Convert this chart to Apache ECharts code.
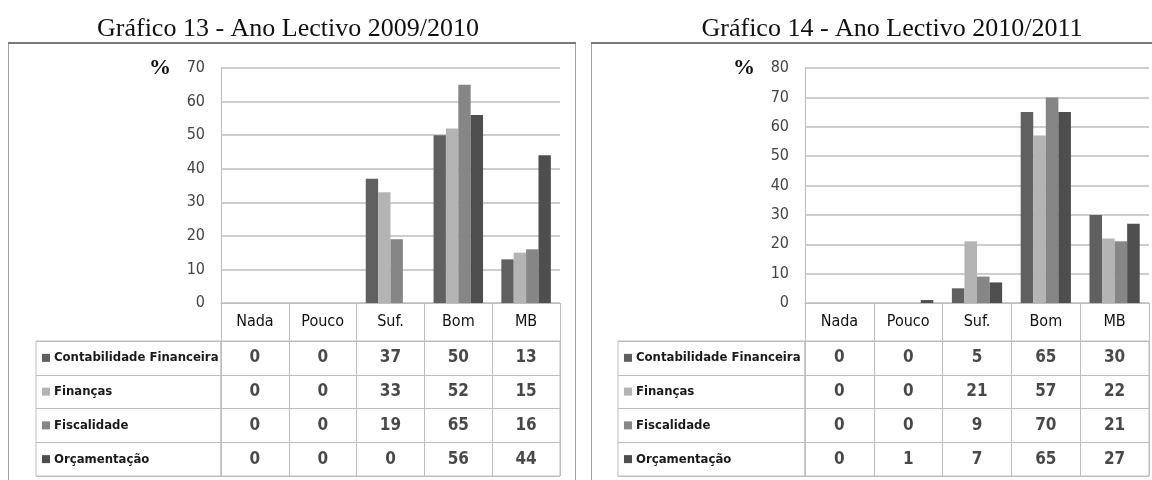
<!DOCTYPE html>
<html>
<head>
<meta charset="utf-8">
<script src="https://cdn.jsdelivr.net/npm/echarts@6/dist/echarts.min.js"></script>
<style>
html,body{margin:0;padding:0;background:#fff;}
#c{width:1152px;height:480px;}
</style>
</head>
<body>
<div id="c"></div>
<script>
// ---- data ----
const categories = ['Nada', 'Pouco', 'Suf.', 'Bom', 'MB'];
const seriesNames = ['Contabilidade Financeira', 'Finanças', 'Fiscalidade', 'Orçamentação'];
const title13 = 'Gráfico 13 - Ano Lectivo 2009/2010';
const title14 = 'Gráfico 14 - Ano Lectivo 2010/2011';
// 2009/2010
const contab13 = [0, 0, 37, 50, 13];
const financas13 = [0, 0, 33, 52, 15];
const fiscal13 = [0, 0, 19, 65, 16];
const orcam13 = [0, 0, 0, 56, 44];
// 2010/2011
const contab14 = [0, 0, 5, 65, 30];
const financas14 = [0, 0, 21, 57, 22];
const fiscal14 = [0, 0, 9, 70, 21];
const orcam14 = [0, 1, 7, 65, 27];
const yMax13 = 70, yMax14 = 80, yStep = 10;
const axisUnit = '%';

// ---- styles ----
const colors = ['#606060', '#b4b4b4', '#868686', '#4e4e4e'];
const FONT = '"Liberation Sans Narrow", "DejaVu Sans Condensed", sans-serif';
const lineCol = '#bdbdbd';

const values13 = [contab13, financas13, fiscal13, orcam13];
const values14 = [contab14, financas14, fiscal14, orcam14];

const P = [
  { plot: { left: 221, top: 68, width: 339, height: 235 }, lab: { left: 36, width: 185 }, titleX: 283, max: yMax13, vals: values13, title: title13 },
  { plot: { left: 805, top: 68, width: 344, height: 235 }, lab: { left: 618, width: 187 }, titleX: 887, max: yMax14, vals: values14, title: title14 }
];
const tableTop = 341, tableH = 135;

const grids = [], xAxes = [], yAxes = [], series = [], titles = [];
const rich = { t: { fontFamily: FONT, fontSize: 13, fontWeight: 'bold', color: '#1a1a1a', padding: [0, 0, 0, 4] } };
colors.forEach((c, i) => { rich['s' + i] = { backgroundColor: c, width: 8, height: 8 }; });

P.forEach((p, k) => {
  const g0 = grids.length;
  grids.push({ left: p.plot.left, top: p.plot.top, width: p.plot.width, height: p.plot.height, show: false });
  grids.push({ left: p.lab.left, top: tableTop, width: p.lab.width, height: tableH, show: true, borderColor: lineCol, borderWidth: 1, backgroundColor: 'transparent' });
  grids.push({ left: p.plot.left, top: tableTop, width: p.plot.width, height: tableH, show: true, borderColor: lineCol, borderWidth: 1, backgroundColor: 'transparent' });

  titles.push({ text: p.title, left: p.titleX, top: 11, textAlign: 'center',
    textStyle: { fontFamily: '"Liberation Serif", "Times New Roman", serif', fontSize: 26, fontWeight: 'normal', color: '#111' } });

  // main plot axes
  xAxes.push({ gridIndex: g0, type: 'category', data: categories,
    axisLine: { show: true, lineStyle: { color: lineCol, width: 1 } },
    axisTick: { show: true, length: 38, lineStyle: { color: lineCol } },
    axisLabel: { margin: 11, fontFamily: FONT, fontSize: 16, color: '#111' },
    splitLine: { show: false } });
  yAxes.push({ gridIndex: g0, type: 'value', min: 0, max: p.max, interval: yStep,
    name: axisUnit, nameLocation: 'end', nameGap: 0,
    nameTextStyle: { fontFamily: '"Liberation Serif", serif', fontWeight: 'bold', fontSize: 22, color: '#111', align: 'right', verticalAlign: 'middle', padding: [0, 50, 0, 0] },
    axisLine: { show: true, lineStyle: { color: lineCol } },
    axisTick: { show: false },
    axisLabel: { margin: 16, fontFamily: FONT, fontSize: 16, color: '#444' },
    splitLine: { show: true, lineStyle: { color: lineCol, width: 1.5 } } });

  // table label column
  xAxes.push({ gridIndex: g0 + 1, type: 'category', data: [''], show: false });
  yAxes.push({ gridIndex: g0 + 1, type: 'category', data: seriesNames, inverse: true,
    axisLine: { show: false }, axisTick: { show: false },
    splitLine: { show: true, lineStyle: { color: lineCol } },
    axisLabel: { inside: true, margin: 6, align: 'left', rich: rich,
      formatter: (v, i) => '{s' + i + '|}{t|' + v + '}' } });

  // table data cells
  xAxes.push({ gridIndex: g0 + 2, type: 'category', data: categories,
    axisLine: { show: false }, axisTick: { show: false }, axisLabel: { show: false },
    splitLine: { show: true, lineStyle: { color: lineCol } } });
  yAxes.push({ gridIndex: g0 + 2, type: 'category', data: seriesNames, inverse: true,
    axisLine: { show: false }, axisTick: { show: false }, axisLabel: { show: false },
    splitLine: { show: true, lineStyle: { color: lineCol } } });

  // bars
  seriesNames.forEach((name, s) => {
    series.push({ type: 'bar', name: name, xAxisIndex: g0, yAxisIndex: g0,
      data: p.vals[s], barGap: '0%', barCategoryGap: '27%',
      itemStyle: { color: colors[s] }, emphasis: { disabled: true } });
  });

  // table values
  const cells = [];
  p.vals.forEach((arr, s) => arr.forEach((v, c) => cells.push([c, s, v])));
  series.push({ type: 'scatter', xAxisIndex: g0 + 2, yAxisIndex: g0 + 2, data: cells,
    symbolSize: 1, itemStyle: { color: 'rgba(0,0,0,0)' },
    label: { show: true, position: 'inside', formatter: q => String(q.value[2]),
      fontFamily: FONT, fontSize: 17, fontWeight: 'bold', color: '#1a1a1a' },
    emphasis: { disabled: true }, silent: true });
});

const chart = echarts.init(document.getElementById('c'), null, { renderer: 'canvas' });
chart.setOption({
  animation: false,
  backgroundColor: '#fff',
  title: titles,
  grid: grids,
  xAxis: xAxes,
  yAxis: yAxes,
  series: series,
  graphic: [
    { type: 'rect', silent: true, z: -1, shape: { x: 8.5, y: 43.5, width: 567, height: 460 }, style: { fill: 'none', stroke: '#a0a0a0', lineWidth: 1 } },
    { type: 'line', silent: true, shape: { x1: 8, y1: 43, x2: 576, y2: 43 }, style: { stroke: '#7a7a7a', lineWidth: 2 } },
    { type: 'rect', silent: true, z: -1, shape: { x: 591.5, y: 43.5, width: 600, height: 460 }, style: { fill: 'none', stroke: '#a0a0a0', lineWidth: 1 } },
    { type: 'line', silent: true, shape: { x1: 591, y1: 43, x2: 1152, y2: 43 }, style: { stroke: '#7a7a7a', lineWidth: 2 } }
  ]
});
</script>
</body>
</html>
